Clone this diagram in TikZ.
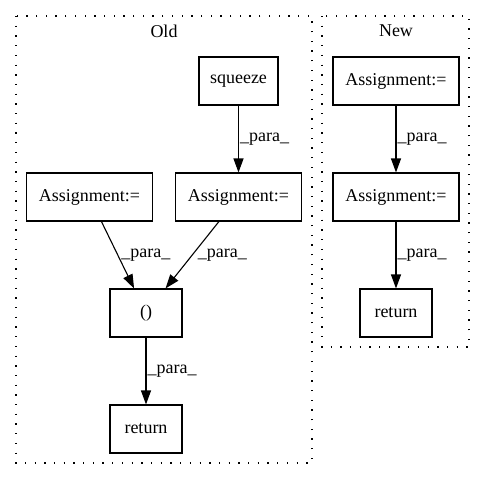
\documentclass[tikz,border=0pt]{standalone}
\usepackage{fontspec}
\setmainfont{Liberation Serif}
\usetikzlibrary{arrows.meta}

\begin{document}
\begin{tikzpicture}[
    x=1pt, y=-1pt,
    font=\fontsize{18}{20}\selectfont,
    box/.style={draw, line width=1.1pt, rectangle, inner sep=0pt, minimum height=48pt},
    wide/.style={box, minimum width=126pt},
    narrow/.style={box, minimum width=72pt},
    cluster/.style={line width=1.3pt, dash pattern=on 1.3pt off 8.4pt},
    flow/.style={line width=1.1pt, -{Triangle[length=14pt, width=10pt]}},
    lbl/.style={anchor=west, inner sep=1pt}
]
\useasboundingbox (0,0) rectangle (485,480);
\draw[cluster] (16,16) rectangle (312,463);
\draw[cluster] (322,16) rectangle (469,347);
\node (old) at (164,31) {Old};
\node (new) at (396,31) {New};

\node[box, minimum width=79pt] (squeeze) at (238.5,81) {squeeze};
\node[wide] (asgL) at (89.5,197) {Assignment:=};
\node[wide] (asgR) at (238.5,197) {Assignment:=};
\node[narrow] (paren) at (146,313) {()};
\node[narrow] (retOld) at (146,429) {return};

\node[wide] (asgA) at (396,81) {Assignment:=};
\node[wide] (asgB) at (396,197) {Assignment:=};
\node[narrow] (retNew) at (396,313) {return};

\draw[flow] (squeeze) -- node[lbl] {\_para\_} (asgR);
\draw[flow] (asgL) -- node[lbl, xshift=2pt] {\_para\_} (paren);
\draw[flow] (asgR) -- node[lbl, xshift=4pt] {\_para\_} (paren);
\draw[flow] (paren) -- node[lbl] {\_para\_} (retOld);
\draw[flow] (asgA) -- node[lbl] {\_para\_} (asgB);
\draw[flow] (asgB) -- node[lbl] {\_para\_} (retNew);
\end{tikzpicture}
\end{document}
